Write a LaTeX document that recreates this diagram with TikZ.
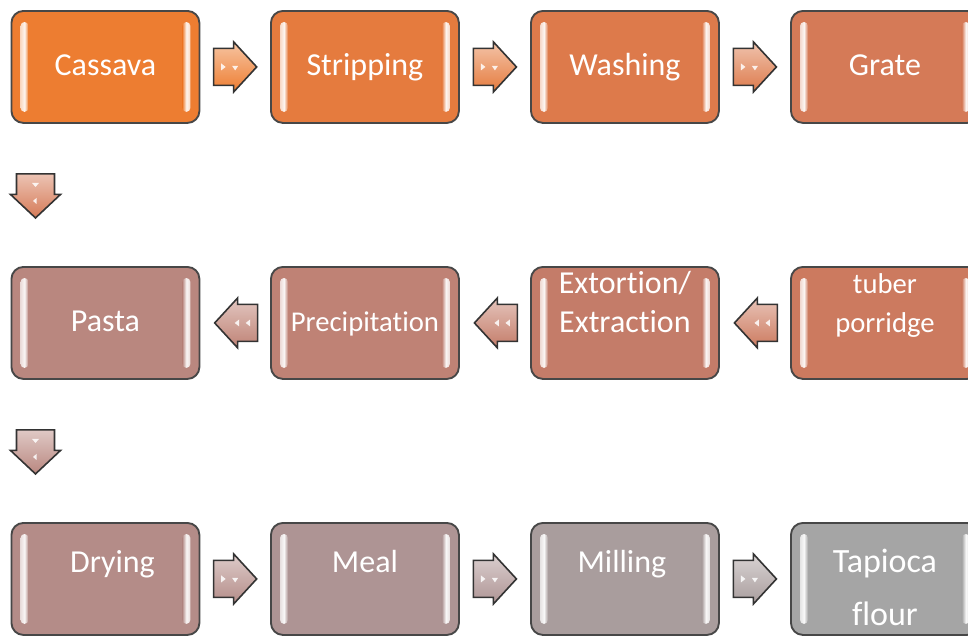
\documentclass[tikz,border=0pt]{standalone}
\usepackage{fontspec}
\setmainfont{Carlito}[Ligatures=NoCommon]
\usetikzlibrary{calc}
\definecolor{c1}{HTML}{ED7D31}
\definecolor{c2}{HTML}{E57B3E}
\definecolor{c3}{HTML}{DD7A4B}
\definecolor{c4}{HTML}{D57A57}
\definecolor{c5}{HTML}{CC7A5F}
\definecolor{c6}{HTML}{C47C69}
\definecolor{c7}{HTML}{BF8275}
\definecolor{c8}{HTML}{B9877F}
\definecolor{c9}{HTML}{B48C88}
\definecolor{c10}{HTML}{AE9494}
\definecolor{c11}{HTML}{A99D9D}
\definecolor{c12}{HTML}{A5A5A5}
\tikzset{
  box/.style={draw=black!72, line width=1.4pt, rounded corners=9pt,
    minimum width=141pt, minimum height=84pt, inner sep=0pt, anchor=north west},
  lbl/.style={text=white, anchor=base, inner sep=0pt, font=\fontsize{24}{29}\selectfont},
  smalllbl/.style={lbl, font=\fontsize{21.5}{25}\selectfont},
  biglbl/.style={lbl, font=\fontsize{25.5}{30}\selectfont},
  arrowline/.style={draw=black!80, line width=1.2pt, line join=miter},
  glint/.style={fill=white, opacity=0.85},
}
% box: name, x, y, colour
\newcommand\procbox[4]{%
  \node[box, fill=#4] (#1) at (#2,#3) {};
  \shade[left color=#4!30!white, right color=#4, middle color=white!92!#4, rounded corners=3pt]
    ($(#1.north west)+(10,12)$) rectangle ($(#1.south west)+(18,-12)$);
  \shade[left color=#4, right color=#4!30!white, middle color=white!92!#4, rounded corners=3pt]
    ($(#1.north east)+(-18,12)$) rectangle ($(#1.south east)+(-10,-12)$);
}
% right / left block arrow: name, centre, colour
\newcommand\rarrow[3]{%
  \coordinate (#1) at (#2);
  \begin{scope}[shift={(#1)}]
    \draw[arrowline, top color=#3!45!white, bottom color=#3]
      (-21.5,-18.5) -- (-1.5,-18.5) -- (-1.5,-25) -- (21.5,0) -- (-1.5,25)
      -- (-1.5,18.5) -- (-21.5,18.5) -- cycle;
    \fill[glint] (-14,-3.5) -- (-9.5,0) -- (-14,3.5) -- cycle;
    \fill[glint] (-3,-1) -- (3,-1) -- (0,3.5) -- cycle;
  \end{scope}}
\newcommand\larrow[3]{%
  \coordinate (#1) at (#2);
  \begin{scope}[shift={(#1)}]
    \draw[arrowline, top color=#3!45!white, bottom color=#3]
      (21.5,-18.5) -- (1.5,-18.5) -- (1.5,-25) -- (-21.5,0) -- (1.5,25)
      -- (1.5,18.5) -- (21.5,18.5) -- cycle;
    \fill[glint] (14,-3.5) -- (9.5,0) -- (14,3.5) -- cycle;
    \fill[glint] (3,-3.5) -- (-1.5,0) -- (3,3.5) -- cycle;
  \end{scope}}
\newcommand\darrow[3]{%
  \coordinate (#1) at (#2);
  \begin{scope}[shift={(#1)}]
    \draw[arrowline, top color=#3!45!white, bottom color=#3]
      (-19,-22) -- (19,-22) -- (19,-1.5) -- (25,-1.5) -- (0,22) -- (-25,-1.5)
      -- (-19,-1.5) -- (-19,-22) -- cycle;
    \fill[glint] (-3.5,-13) -- (3.5,-13) -- (0,-9) -- cycle;
    \fill[glint] (1,2) -- (-2.5,5) -- (1,8) -- cycle;
  \end{scope}}
\begin{document}
\begin{tikzpicture}[x=0.75pt,y=-0.75pt]
\clip (0,0) rectangle (968,636);
\fill[white] (0,0) rectangle (968,636);
% row 1
\procbox{b1}{10.5}{10}{c1}
\procbox{b2}{270}{10}{c2}
\procbox{b3}{530}{10}{c3}
\procbox{b4}{790}{10}{c4}
% row 2 (right to left)
\procbox{b5}{790}{266}{c5}
\procbox{b6}{530}{266}{c6}
\procbox{b7}{270}{266}{c7}
\procbox{b8}{10.5}{266}{c8}
% row 3
\procbox{b9}{10.5}{522}{c9}
\procbox{b10}{270}{522}{c10}
\procbox{b11}{530}{522}{c11}
\procbox{b12}{790}{522}{c12}
% arrows
\rarrow{a1}{$(b1.east)!0.5!(b2.west)$}{c1}
\rarrow{a2}{$(b2.east)!0.5!(b3.west)$}{c2}
\rarrow{a3}{$(b3.east)!0.5!(b4.west)$}{c3}
\darrow{d1}{$(b1.south west)!0.5!(b8.north west)+(25,1)$}{c4}
\larrow{l1}{$(b5.west)!0.5!(b6.east)+(1,0)$}{c5}
\larrow{l2}{$(b6.west)!0.5!(b7.east)+(1,0)$}{c6}
\larrow{l3}{$(b7.west)!0.5!(b8.east)+(1,0)$}{c7}
\darrow{d2}{$(b8.south west)!0.5!(b9.north west)+(25,1)$}{c8}
\rarrow{a4}{$(b9.east)!0.5!(b10.west)$}{c9}
\rarrow{a5}{$(b10.east)!0.5!(b11.west)$}{c10}
\rarrow{a6}{$(b11.east)!0.5!(b12.west)$}{c11}
% labels
\node[lbl] (t1) at ($(b1.north)+(0,65)$) {Cassava};
\node[lbl] (t2) at ($(b2.north)+(0,65)$) {Stripping};
\node[lbl] (t3) at ($(b3.north)+(0,65)$) {Washing};
\node[lbl] (t4) at ($(b4.north)+(0,65)$) {Grate};
\node[smalllbl] (t5a) at ($(b5.north)+(0,27)$) {tuber};
\node[smalllbl] (t5b) at ($(b5.north)+(0,66)$) {porridge};
\node[lbl] (t6a) at ($(b6.north)+(0,27)$) {Extortion/};
\node[lbl] (t6b) at ($(b6.north)+(0,66)$) {Extraction};
\node[smalllbl] (t7) at ($(b7.north)+(0,65)$) {Precipitation};
\node[lbl] (t8) at ($(b8.north)+(0,65)$) {Pasta};
\node[lbl] (t9) at ($(b9.north)+(7,50)$) {Drying};
\node[lbl] (t10) at ($(b10.north)+(0,50)$) {Meal};
\node[lbl] (t11) at ($(b11.north)+(-3,50)$) {Milling};
\node[biglbl] (t12a) at ($(b12.north)+(0,50)$) {Tapioca};
\node[biglbl] (t12b) at ($(b12.north)+(0,103)$) {flour};
\end{tikzpicture}
\end{document}
